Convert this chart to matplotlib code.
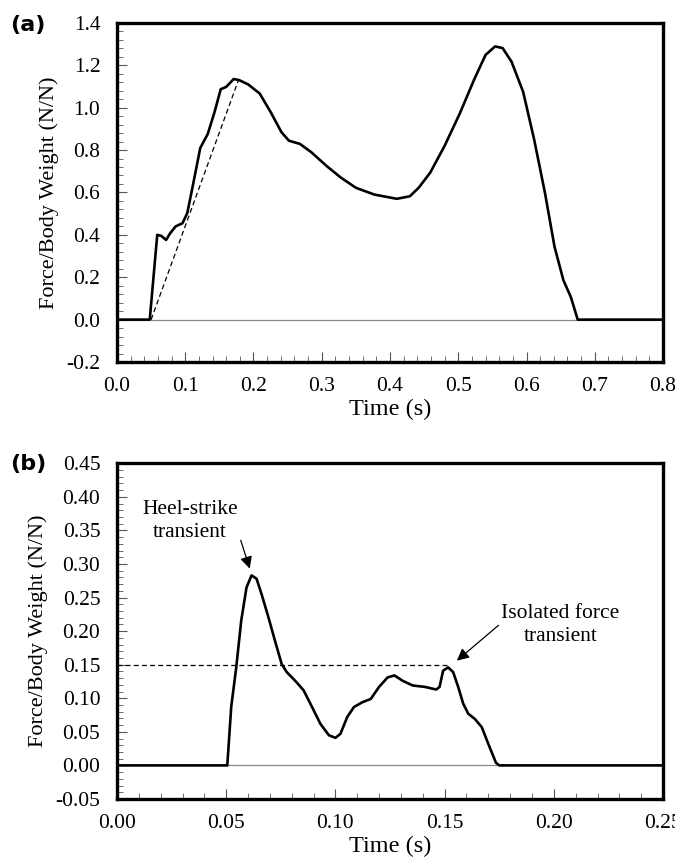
import matplotlib
matplotlib.use("Agg")
import matplotlib.pyplot as plt
from matplotlib.ticker import MultipleLocator, FormatStrFormatter

# panel (a): full stance force trace
time_a = [0.0, 0.048, 0.059, 0.065, 0.072, 0.078, 0.086, 0.096, 0.103, 0.111, 0.122,
          0.133, 0.143, 0.152, 0.160, 0.171, 0.179, 0.192, 0.209, 0.225, 0.241, 0.252,
          0.268, 0.285, 0.307, 0.328, 0.350, 0.377, 0.410, 0.429, 0.442, 0.459, 0.480,
          0.502, 0.524, 0.540, 0.554, 0.565, 0.578, 0.595, 0.611, 0.627, 0.641, 0.654,
          0.665, 0.675, 0.8]
force_a = [0.0, 0.0, 0.40, 0.395, 0.376, 0.408, 0.44, 0.455, 0.503, 0.63, 0.81,
           0.876, 0.98, 1.087, 1.098, 1.135, 1.13, 1.11, 1.067, 0.98, 0.884, 0.844,
           0.829, 0.789, 0.725, 0.67, 0.622, 0.59, 0.57, 0.582, 0.622, 0.694, 0.82,
           0.971, 1.138, 1.249, 1.289, 1.281, 1.217, 1.075, 0.852, 0.598, 0.344, 0.186,
           0.106, 0.0, 0.0]
ramp_t = [0.05, 0.178]
ramp_f = [0.0, 1.13]

# panel (b): isolated transient trace
time_b = [0.0, 0.0505, 0.0523, 0.0546, 0.0569, 0.0593, 0.0616, 0.0639, 0.0662, 0.0693,
          0.0723, 0.0754, 0.0777, 0.0816, 0.0854, 0.0893, 0.0931, 0.097, 0.100, 0.1023,
          0.1054, 0.1085, 0.1123, 0.1162, 0.120, 0.1239, 0.127, 0.1308, 0.1354, 0.1408,
          0.1462, 0.1477, 0.1493, 0.1516, 0.1539, 0.1562, 0.1585, 0.1608, 0.1639, 0.167,
          0.170, 0.1735, 0.175, 0.25]
force_b = [0.0, 0.0, 0.087, 0.146, 0.216, 0.265, 0.283, 0.278, 0.255, 0.221,
           0.186, 0.151, 0.139, 0.126, 0.112, 0.087, 0.062, 0.045, 0.041, 0.047,
           0.072, 0.087, 0.094, 0.099, 0.117, 0.131, 0.134, 0.126, 0.119, 0.117,
           0.113, 0.117, 0.141, 0.146, 0.139, 0.117, 0.092, 0.077, 0.069, 0.057,
           0.032, 0.004, 0.0, 0.0]
threshold = 0.15
threshold_end = 0.152

plt.rcParams['font.family'] = ['Liberation Serif', 'DejaVu Serif']

fig = plt.figure(figsize=(6.75, 8.63), dpi=100)
ax1 = fig.add_axes([0.1733, 0.5805, 0.809, 0.393])
ax2 = fig.add_axes([0.1733, 0.0742, 0.809, 0.389])


def style_axes(ax, xmaj, xmin, ymaj, ymin, xfmt, yfmt):
    for s in ax.spines.values():
        s.set_linewidth(2.4)
    ax.xaxis.set_major_locator(MultipleLocator(xmaj))
    ax.xaxis.set_minor_locator(MultipleLocator(xmin))
    ax.yaxis.set_major_locator(MultipleLocator(ymaj))
    ax.yaxis.set_minor_locator(MultipleLocator(ymin))
    ax.xaxis.set_major_formatter(FormatStrFormatter(xfmt))
    ax.yaxis.set_major_formatter(FormatStrFormatter(yfmt))
    ax.tick_params(which='both', direction='in', top=False, right=False,
                   labelsize=15.5, color='#555555')
    ax.tick_params(which='major', length=7, width=0.8)
    ax.tick_params(which='minor', length=4, width=0.6)
    ax.tick_params(axis='y', pad=12)
    ax.tick_params(axis='x', pad=11)
    ax.set_xlabel('Time (s)', fontsize=17.5, labelpad=2)
    ax.set_ylabel('Force/Body Weight (N/N)', fontsize=16, labelpad=5)


# (a)
ax1.axhline(0, color='#888888', lw=0.9, zorder=1)
ax1.plot(ramp_t, ramp_f, color='black', lw=0.9, ls=(0, (4, 2.5)), zorder=2)
ax1.plot(time_a, force_a, color='black', lw=1.9, zorder=3)
ax1.set_xlim(0, 0.8)
ax1.set_ylim(-0.2, 1.4)
style_axes(ax1, 0.1, 0.02, 0.2, 0.04, '%.1f', '%.1f')
fig.text(0.015, 0.971, '(a)', fontsize=16, fontweight='bold',
         family='DejaVu Sans', va='center')

# (b)
ax2.axhline(0, color='#888888', lw=0.9, zorder=1)
ax2.plot([0, threshold_end], [threshold, threshold], color='black', lw=0.9,
         ls=(0, (4, 2.5)), zorder=2)
ax2.plot(time_b, force_b, color='black', lw=1.9, zorder=3)
ax2.set_xlim(0, 0.25)
ax2.set_ylim(-0.05, 0.45)
style_axes(ax2, 0.05, 0.01, 0.05, 0.01, '%.2f', '%.2f')
fig.text(0.015, 0.462, '(b)', fontsize=16, fontweight='bold',
         family='DejaVu Sans', va='center')

arrow = dict(arrowstyle='-|>', color='black', lw=0.9, mutation_scale=18)
ax2.annotate('Heel-strike\ntransient', xy=(0.0608, 0.293), xytext=(0.0335, 0.364),
             ha='center', va='center', fontsize=15.5, linespacing=1.3,
             arrowprops=dict(arrow, shrinkA=0, shrinkB=0, relpos=(1.0, 0.25)))
ax2.annotate('Isolated force\ntransient', xy=(0.1556, 0.156), xytext=(0.203, 0.209),
             ha='center', va='center', fontsize=15.5, linespacing=1.3,
             arrowprops=dict(arrow, shrinkA=0, shrinkB=0, relpos=(0.0, 0.55)))

fig.savefig('out.png', dpi=100)
